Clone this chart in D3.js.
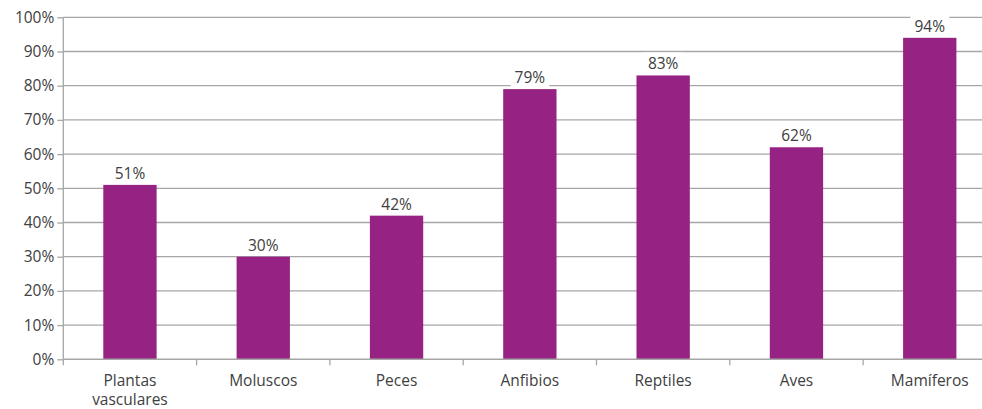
<!DOCTYPE html>
<html><head><meta charset="utf-8">
<script src="https://cdn.jsdelivr.net/npm/d3@7"></script>
<style>body{margin:0;background:#fff}svg{display:block}text{font-family:"Open Sans",sans-serif;fill:#404040}</style>
</head><body><svg id="c" width="982" height="409"></svg>
<script>
const categories = ["Plantas\nvasculares","Moluscos","Peces","Anfibios","Reptiles","Aves","Mamíferos"];
const values = [51,30,42,79,83,62,94];
const yTicks = [0,10,20,30,40,50,60,70,80,90,100];

const svg = d3.select("#c");
const x = d3.scaleBand().domain(categories).range([63.3, 996.4]).paddingInner(0.6).paddingOuter(0.3);
const y = d3.scaleLinear().domain([0,100]).range([359.3, 17.3]);
const grid = "#a6a6a6";

// gridlines
svg.append("g").selectAll("line").data(yTicks.filter(d=>d>0)).join("line")
  .attr("x1",63.3).attr("x2",982).attr("y1",d=>y(d)).attr("y2",d=>y(d))
  .attr("stroke",grid).attr("stroke-width",1.3);

// y axis
const ya = svg.append("g").attr("transform","translate(63.3,0)").call(d3.axisLeft(y).tickValues(yTicks).tickSize(6).tickFormat(d=>d+"%"));
ya.select(".domain").attr("stroke",grid).attr("stroke-width",1.3).attr("d","M0,17.3V359.3");
ya.selectAll(".tick line").attr("stroke",grid).attr("stroke-width",1.3);
ya.selectAll(".tick text").attr("font-size",15.5).attr("font-family","Open Sans").attr("fill","#404040").attr("x",-9);

// bars
svg.append("g").selectAll("rect").data(values).join("rect")
  .attr("x",(d,i)=>x(categories[i])).attr("width",x.bandwidth())
  .attr("y",d=>y(d)).attr("height",d=>y(0)-y(d)).attr("fill","#962283");

// x axis
const step = x.step();
const xa = svg.append("g");
xa.append("line").attr("x1",63.3).attr("x2",982).attr("y1",y(0)).attr("y2",y(0)).attr("stroke",grid).attr("stroke-width",1.5);
xa.selectAll("line.t").data(d3.range(categories.length+1)).join("line").attr("class","t")
  .attr("x1",i=>63.3+i*step).attr("x2",i=>63.3+i*step).attr("y1",y(0)).attr("y2",y(0)+6)
  .attr("stroke",grid).attr("stroke-width",1.3);
categories.forEach((c,i)=>{
  const t = xa.append("text").attr("x",x(c)+x.bandwidth()/2).attr("y",386).attr("text-anchor","middle").attr("font-size",15.5);
  c.split("\n").forEach((s,j)=>t.append("tspan").attr("x",x(c)+x.bandwidth()/2).attr("dy",j?19:0).text(s));
});

// value labels with white background
const lg = svg.append("g");
values.forEach((v,i)=>{
  const cx = x(categories[i])+x.bandwidth()/2;
  const t = lg.append("text").attr("x",cx).attr("y",y(v)-6).attr("text-anchor","middle").attr("font-size",15.5).text(v+"%");
  const b = t.node().getBBox();
  lg.insert("rect","text").attr("x",b.x-4).attr("y",b.y).attr("width",b.width+8).attr("height",b.height).attr("fill","#fff");
});
</script></body></html>
